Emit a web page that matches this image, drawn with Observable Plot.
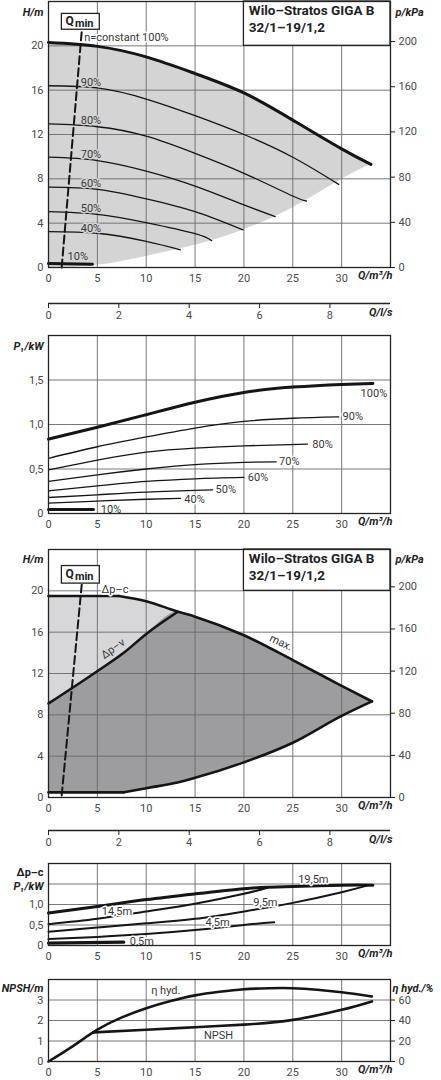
<!DOCTYPE html>
<html>
<head>
<meta charset="utf-8">
<script src="https://cdn.jsdelivr.net/npm/d3@7"></script>
<script src="https://cdn.jsdelivr.net/npm/@observablehq/plot@0.6"></script>
<style>
html,body{margin:0;padding:0;background:#fff;}
#wrap{position:relative;width:441px;height:1080px;overflow:hidden;background:#fff;}
#wrap svg{position:absolute;left:0;}
</style>
</head>
<body>
<div id="wrap"></div>
<script>
// ---------- tick values ----------
const qTicks = [0, 5, 10, 15, 20, 25, 30];
const qGrid = [5, 10, 15, 20, 25, 30];
const qlsTicks = [0, 2, 4, 6, 8];
const hTicks = [0, 4, 8, 12, 16, 20];
const hGrid = [4, 8, 12, 16, 20];
const kpaTicks = [0, 40, 80, 120, 160, 200];
const p1Ticks = [0, 0.5, 1.0, 1.5];
const p1Grid = [0.5, 1.0, 1.5];
const p4Ticks = [0, 0.5, 1.0];
const npshTicks = [0, 1, 2, 3];
const npshGrid = [1, 2, 3];
const etaTicks = [0, 20, 40, 60];

// ---------- panel 1: H(Q) at speed steps ----------
const envQ   = [0, 5, 10, 15, 20, 25, 30, 33];
const envLow = [0, 0.2, 1.0, 2.0, 3.4, 5.4, 7.95, 9.3];
const hq100  = [20.3, 19.95, 19.0, 17.5, 15.75, 13.3, 10.7, 9.3];
const hq90 = [[0,16.4],[5,16.2],[10,15.2],[15,13.7],[20,12.0],[25,9.95],[29.7,7.5]];
const hq80 = [[0,12.95],[5,12.7],[10,11.85],[15,10.3],[20,8.5],[25,6.45],[26.4,6.0]];
const hq70 = [[0,9.95],[5,9.65],[10,8.7],[15,7.35],[20,5.65],[23.2,4.6]];
const hq60 = [[0,7.25],[5,7.05],[10,6.2],[15,5.05],[19.9,3.4]];
const hq50 = [[0,5.04],[5,4.8],[10,4.05],[15,3.05],[16.7,2.42]];
const hq40 = [[0,3.24],[5,3.09],[10,2.36],[13.5,1.6]];
const hq10 = [[0,0.35],[4.5,0.3]];
const qminH1 = [[1.35,0],[3.4,21.3]];
const hqLabels = [
  {t:"90%", q:3.3, v:16.7}, {t:"80%", q:3.3, v:13.3}, {t:"70%", q:3.3, v:10.2},
  {t:"60%", q:3.3, v:7.56}, {t:"50%", q:3.3, v:5.34}, {t:"40%", q:3.3, v:3.5},
  {t:"10%", q:1.95, v:0.96}
];

// ---------- panel 2: P1(Q) at speed steps ----------
const p100 = [[0,0.836],[5,0.97],[10,1.11],[15,1.25],[20,1.36],[25,1.42],[30,1.45],[33.2,1.46]];
const p90 = [[0,0.62],[5,0.75],[10,0.86],[15,0.96],[20,1.035],[25,1.07],[29.7,1.085]];
const p80 = [[0,0.49],[5,0.60],[10,0.69],[15,0.735],[20,0.76],[26.5,0.78]];
const p70 = [[0,0.36],[5,0.435],[10,0.5],[15,0.55],[20,0.575],[23.3,0.58]];
const p60 = [[0,0.255],[5,0.31],[10,0.36],[15,0.39],[20,0.405]];
const p50 = [[0,0.18],[5,0.21],[10,0.24],[15,0.26],[16.8,0.266]];
const p40 = [[0,0.116],[5,0.14],[10,0.16],[13.5,0.17]];
const p10 = [[0,0.045],[4.6,0.045]];
const pLabelsEnd = [
  {t:"90%", q:30.1, v:1.085}, {t:"80%", q:27.0, v:0.775}, {t:"70%", q:23.6, v:0.585},
  {t:"60%", q:20.4, v:0.405}, {t:"50%", q:17.1, v:0.266}, {t:"40%", q:13.9, v:0.16},
  {t:"10%", q:5.35, v:0.05}
];
const pLabelTop = [{t:"100%", q:33.3, v:1.35}];

// ---------- panel 3: control ranges ----------
const dpcFlat  = [[0,19.5],[7.2,19.5]];
const maxCurve = [[7.2,19.5],[10,19.0],[13.2,18.0],[15,17.5],[20,15.7],[25,13.3],[30,10.8],[33.1,9.3]];
const minCurve = [[7.7,0.5],[10,0.9],[13.2,1.45],[15,1.9],[20,3.4],[25,5.3],[30,7.9],[33.1,9.3]];
const minFlat  = [[0,0.5],[7.7,0.5]];
const dpvLine  = [[0,9.1],[4.8,12.1],[7.7,14.0],[10.1,15.9],[13.2,17.95]];
const lightQ  = [0, 4.8, 7.2, 10.1, 13.2];
const lightLo = [9.1, 12.1, 13.6, 15.9, 17.95];
const lightHi = [19.5, 19.5, 19.5, 19.0, 17.95];
const darkQ  = [0, 4.8, 7.7, 10.1, 13.2, 15, 20, 25, 30, 33.1];
const darkLo = [0.5, 0.5, 0.5, 0.9, 1.45, 1.9, 3.4, 5.3, 7.9, 9.3];
const darkHi = [9.1, 12.1, 14.0, 15.9, 17.95, 17.5, 15.7, 13.3, 10.8, 9.3];
const qminH3 = [[1.35,0.2],[3.4,20.6]];

// ---------- panel 4: P1 for delta-p-c ----------
const c195 = [[0,0.79],[5,0.95],[10,1.12],[15,1.26],[20,1.385],[22.5,1.42],[25,1.44],[30,1.47],[33.2,1.47]];
const c145 = [[0,0.52],[5,0.65],[10,0.83],[15,1.02],[20,1.26],[22.4,1.41]];
const c95  = [[0,0.336],[5,0.44],[10,0.54],[15,0.65],[20,0.83],[25,1.04],[30,1.30],[32.6,1.46]];
const c45  = [[0,0.156],[5,0.21],[10,0.28],[15,0.377],[20,0.5],[23.1,0.566]];
const c05  = [[0,0.06],[7.7,0.08]];
const cLabels = [
  {t:"19,5m", q:27.1, v:1.6}, {t:"14,5m", q:7.0, v:0.84}, {t:"9,5m", q:22.2, v:1.06},
  {t:"4,5m", q:17.3, v:0.56}, {t:"0,5m", q:9.55, v:0.1}
];

// ---------- panel 5: NPSH and efficiency ----------
const npsh = [[4.6,1.42],[10,1.55],[15,1.67],[20,1.8],[25,2.03],[30,2.52],[33.1,2.93]];
const etaPct = [[0,0],[2.5,15],[5,31],[7.5,43],[10,52],[12.5,59],[15,64.5],[17.5,68],[20,70.5],[22.5,71.5],[25,71.5],[27.5,70],[30,67.5],[33.1,63.5]];

// ---------- helpers ----------
const FONT = "Roboto, 'Open Sans', sans-serif";
const INK = "#151515";
const GRID = "#6a6a6a";
const TXT = "#4a4a4a";
const LBL = "#383838";
const KPA_PER_M = 9.81;
const ETA_PER_M = 20;
const dec = d => d === 0 ? "0" : d.toFixed(1).replace(".", ",");
const int = d => String(Math.round(d));
const pts = a => a.map(([q, v]) => ({q, v}));
const zip3 = (q, lo, hi) => q.map((x, i) => ({q: x, lo: lo[i], hi: hi[i]}));
const line = (a, w, o = {}) => Plot.line(pts(a), {x: "q", y: "v", stroke: INK, strokeWidth: w, curve: "natural", ...o});
const texts = (arr, o = {}) => Plot.text(arr, {x: "q", y: "v", text: "t", fill: LBL, fontSize: 11, ...o});
const gx = () => Plot.gridX({ticks: qGrid, stroke: GRID, strokeOpacity: 1, strokeWidth: 0.9});
const gy = t => Plot.gridY({ticks: t, stroke: GRID, strokeOpacity: 1, strokeWidth: 0.9});
const frame = () => Plot.frame({stroke: "#222", strokeWidth: 1.3});
const axB = () => Plot.axisX({anchor: "bottom", ticks: qTicks, tickSize: 0, tickPadding: 7, label: null, tickFormat: int});
const axL = (t, f) => Plot.axisY({anchor: "left", ticks: t, tickSize: 0, tickPadding: 5, label: null, tickFormat: f});
const axR = (t, f) => Plot.axisY({anchor: "right", ticks: t, tickSize: 4, tickPadding: 4, label: null, tickFormat: f, stroke: "#222"});
const ttl = (txt, anchor, dx, dy, o = {}) => Plot.text([txt], {frameAnchor: anchor, dx, dy, fontWeight: "bold", fontStyle: "italic", fill: "#222", fontSize: 11, ...o});
const qLabel = () => ttl("Q/m³/h", "bottom-right", 2, 11, {textAnchor: "end"});
const kpaAxis = () => axR(kpaTicks.map(p => p / KPA_PER_M), d => Math.round(d * KPA_PER_M));
const titleBox = () => [
  Plot.rect([0], {x1: 20, x2: 35, y1: 20, y2: 24, fill: "white", stroke: "#222", strokeWidth: 1.3}),
  Plot.text(["Wilo–Stratos GIGA B\n32/1–19/1,2"], {x: 20.5, y: 24, dy: 2, textAnchor: "start", lineAnchor: "top", lineHeight: 1.23, fontWeight: "bold", fontSize: 13.5, fill: "#222"})
];
const qminBox = (y1, y2) => [
  Plot.rect([0], {x1: 1.37, x2: 5.25, y1, y2, fill: "white", stroke: "#222", strokeWidth: 1.3}),
  Plot.text(["Q"], {x: 1.75, y: (y1 + y2) / 2, textAnchor: "start", fontSize: 12, fontWeight: "bold", fill: "#222", dy: -0.5}),
  Plot.text(["min"], {x: 2.7, y: (y1 + y2) / 2, textAnchor: "start", fontSize: 11, fontWeight: "bold", fill: "#222", dy: 1.5})
];
const style = {fontFamily: FONT, fontSize: "11px", color: TXT, background: "transparent"};
const wrap = document.getElementById("wrap");
function put(svg, top) { svg.style.top = top + "px"; wrap.appendChild(svg); }
function lsAxis() {
  return Plot.plot({
    width: 441, height: 30, marginLeft: 48, marginRight: 51, marginTop: 4, marginBottom: 22,
    x: {domain: [0, 35 / 3.6], axis: null}, y: {domain: [0, 1], axis: null}, style,
    marks: [
      Plot.ruleY([0], {stroke: "#222", strokeWidth: 1.3}),
      Plot.axisX({anchor: "bottom", ticks: qlsTicks, tickSize: 5, tickPadding: 3, label: null, stroke: "#222", tickFormat: int}),
      ttl("Q/l/s", "bottom-right", 2, 12, {textAnchor: "end"})
    ]
  });
}

// ---------- panel 1 ----------
put(Plot.plot({
  width: 441, height: 290, marginLeft: 48, marginRight: 51, marginTop: 1, marginBottom: 23,
  x: {domain: [0, 35], axis: null}, y: {domain: [0, 24], axis: null}, style,
  marks: [
    Plot.areaY(zip3(envQ, envLow, hq100), {x: "q", y1: "lo", y2: "hi", fill: "#d4d4d5", curve: "natural"}),
    gx(), gy(hGrid),
    ...titleBox(),
    line(hq90, 1.3), line(hq80, 1.3), line(hq70, 1.3), line(hq60, 1.3), line(hq50, 1.3), line(hq40, 1.3),
    line(envQ.map((q, i) => [q, hq100[i]]), 3),
    line(hq10, 3, {curve: "linear"}),
    line(qminH1, 2, {strokeDasharray: "8,4", curve: "linear"}),
    ...qminBox(21.45, 22.88),
    Plot.text(["n=constant 100%"], {x: 3.65, y: 20.75, textAnchor: "start", fontSize: 11, fill: LBL, stroke: "white", strokeWidth: 3}),
    texts(hqLabels, {textAnchor: "start", stroke: "#d4d4d5", strokeWidth: 3}),
    frame(),
    axL(hTicks, int), kpaAxis(), axB(),
    ttl("H/m", "top-left", -5, 7, {textAnchor: "end"}),
    ttl("p/kPa", "top-right", 5, 7, {textAnchor: "start"}),
    qLabel()
  ]
}), 0);
put(lsAxis(), 295);

// ---------- panel 2 ----------
put(Plot.plot({
  width: 441, height: 205, marginLeft: 48, marginRight: 51, marginTop: 5, marginBottom: 22,
  x: {domain: [0, 35], axis: null}, y: {domain: [0, 2], axis: null}, style,
  marks: [
    gx(), gy(p1Grid),
    line(p90, 1.3), line(p80, 1.3), line(p70, 1.3), line(p60, 1.3), line(p50, 1.3), line(p40, 1.3),
    line(p100, 3), line(p10, 3, {curve: "linear"}),
    texts(pLabelsEnd, {textAnchor: "start", stroke: "white", strokeWidth: 3}),
    texts(pLabelTop, {textAnchor: "middle"}),
    frame(),
    axL(p1Ticks, dec), axB(),
    ttl("P₁/kW", "top-left", -5, 7, {textAnchor: "end"}),
    qLabel()
  ]
}), 330);

// ---------- panel 3 ----------
put(Plot.plot({
  width: 441, height: 290, marginLeft: 48, marginRight: 51, marginTop: 19, marginBottom: 23,
  x: {domain: [0, 35], axis: null}, y: {domain: [0, 24], axis: null}, style,
  marks: [
    Plot.areaY(zip3(lightQ, lightLo, lightHi), {x: "q", y1: "lo", y2: "hi", fill: "#d7d7d9", curve: "monotone-x"}),
    Plot.areaY(zip3(darkQ, darkLo, darkHi), {x: "q", y1: "lo", y2: "hi", fill: "#9d9da0", curve: "monotone-x"}),
    gx(), gy(hGrid),
    ...titleBox(),
    line(dpcFlat, 2.6, {curve: "linear"}), line(maxCurve, 2.6, {curve: "monotone-x"}), line(minCurve, 2.6, {curve: "monotone-x"}),
    line(minFlat, 2.6, {curve: "linear"}), line(dpvLine, 2.6, {curve: "monotone-x"}),
    line(qminH3, 2, {strokeDasharray: "8,4", curve: "linear"}),
    ...qminBox(20.7, 22.4),
    Plot.text(["Δp–c"], {x: 6.8, y: 20.15, fontSize: 11, fill: LBL, stroke: "white", strokeWidth: 3}),
    Plot.text(["Δp–v"], {x: 6.6, y: 14.4, rotate: -35, fontSize: 11, fill: LBL}),
    Plot.text(["max."], {x: 23.8, y: 15.0, rotate: 25, fontSize: 11, fill: LBL}),
    frame(),
    axL(hTicks, int), kpaAxis(), axB(),
    ttl("H/m", "top-left", -5, 6, {textAnchor: "end"}),
    ttl("p/kPa", "top-right", 5, 6, {textAnchor: "start"}),
    qLabel()
  ]
}), 530);
put(lsAxis(), 822);

// ---------- panel 4 ----------
put(Plot.plot({
  width: 441, height: 117, marginLeft: 48, marginRight: 51, marginTop: 13, marginBottom: 22,
  x: {domain: [0, 35], axis: null}, y: {domain: [0, 2], axis: null}, style,
  marks: [
    gx(), gy(p1Grid),
    line(c145, 2), line(c95, 2), line(c45, 2),
    line(c195, 3), line(c05, 3.2, {curve: "linear"}),
    texts(cLabels, {stroke: "white", strokeWidth: 3}),
    frame(),
    axL(p4Ticks, dec), axB(),
    ttl("Δp–c", "top-left", -5, 4.5, {textAnchor: "end", fontStyle: "normal"}),
    ttl("P₁/kW", "top-left", -5, 19, {textAnchor: "end"}),
    qLabel()
  ]
}), 850);

// ---------- panel 5 ----------
put(Plot.plot({
  width: 441, height: 112, marginLeft: 48, marginRight: 51, marginTop: 11, marginBottom: 19,
  x: {domain: [0, 35], axis: null}, y: {domain: [0, 4], axis: null}, style,
  marks: [
    gx(), gy(npshGrid),
    line(npsh, 2.6),
    line(etaPct.map(([q, e]) => [q, e / ETA_PER_M]), 2.6),
    Plot.text(["η hyd."], {x: 12.0, y: 3.45, fontSize: 11, fill: LBL}),
    Plot.text(["NPSH"], {x: 17.4, y: 1.26, fontSize: 11, fill: LBL}),
    frame(),
    axL(npshTicks, int), axR(etaTicks.map(e => e / ETA_PER_M), d => Math.round(d * ETA_PER_M)), axB(),
    ttl("NPSH/m", "top-left", -5, 5, {textAnchor: "end"}),
    ttl("η hyd./%", "top-right", 2, 5, {textAnchor: "start"}),
    qLabel()
  ]
}), 968);
</script>
</body>
</html>
